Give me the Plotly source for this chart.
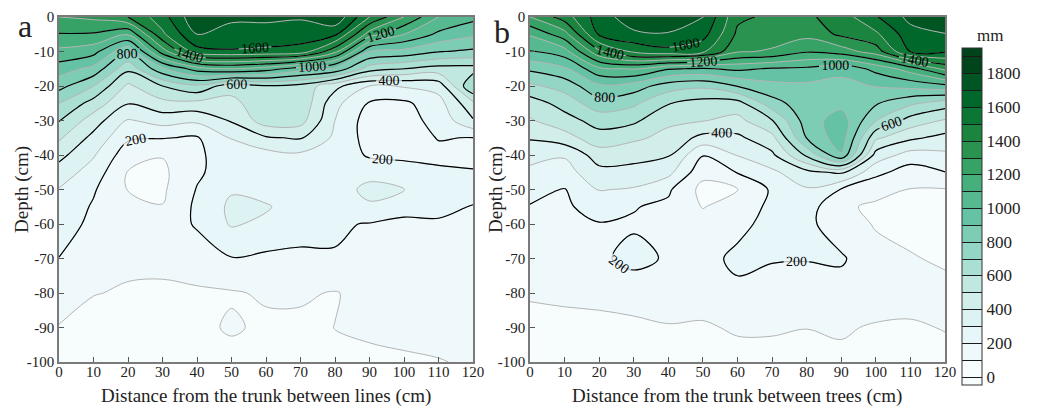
import numpy as np
import plotly.graph_objects as go

# distance from trunk (cm) and depth (cm)
distance = [0, 10, 20, 30, 40, 50, 60, 70, 80, 90, 100, 110, 120]
depth = [0, -5, -10, -15, -20, -25, -30, -35, -40, -45, -50, -55, -60, -70, -80, -90, -100]

# panel a: between lines, one column per distance, values top->bottom (mm)
between_lines = [
    [1300, 1195, 1075, 950, 835, 700, 605, 515, 430, 355, 295, 265, 250, 198, 150, 95, 80],
    [1320, 1190, 1035, 870, 700, 560, 450, 370, 310, 255, 210, 190, 175, 130, 102, 80, 70],
    [1400, 1110, 810, 625, 480, 405, 290, 215, 140, 95, 97, 120, 130, 110, 95, 80, 70],
    [1560, 1480, 1250, 880, 600, 470, 340, 205, 105, 80, 85, 103, 120, 115, 90, 75, 60],
    [1780, 1700, 1560, 1050, 680, 470, 320, 190, 180, 185, 205, 220, 215, 130, 92, 80, 65],
    [1720, 1660, 1590, 1100, 540, 470, 410, 305, 260, 250, 290, 320, 310, 195, 92, 110, 70],
    [1720, 1660, 1580, 1050, 590, 570, 550, 390, 260, 240, 260, 310, 280, 180, 110, 85, 70],
    [1710, 1650, 1560, 950, 565, 580, 540, 410, 280, 240, 240, 250, 230, 185, 110, 85, 75],
    [1780, 1620, 1330, 880, 430, 330, 300, 280, 250, 240, 230, 215, 210, 195, 95, 101, 80],
    [1500, 1250, 900, 650, 300, 190, 150, 160, 190, 250, 340, 280, 195, 160, 130, 108, 90],
    [1300, 1100, 870, 600, 310, 180, 165, 170, 185, 230, 305, 215, 190, 160, 140, 110, 95],
    [1100, 980, 805, 560, 340, 260, 230, 203, 185, 210, 240, 220, 190, 150, 130, 115, 98],
    [1030, 920, 780, 560, 700, 480, 390, 198, 180, 205, 230, 196, 185, 150, 130, 115, 105],
]

# panel b: between trees
between_trees = [
    [1300, 1110, 995, 820, 680, 550, 490, 410, 330, 280, 230, 195, 170, 140, 105, 85, 70],
    [1450, 1260, 1060, 880, 740, 640, 560, 460, 310, 260, 195, 185, 175, 150, 110, 85, 70],
    [1650, 1615, 1380, 1080, 880, 760, 640, 560, 450, 370, 305, 240, 195, 185, 110, 90, 75],
    [1760, 1680, 1520, 1110, 850, 720, 620, 520, 430, 370, 290, 205, 190, 225, 150, 75, 65],
    [1780, 1690, 1570, 1010, 750, 605, 520, 470, 410, 330, 215, 180, 175, 190, 140, 95, 80],
    [1705, 1640, 1520, 990, 720, 560, 505, 370, 205, 130, 70, 95, 140, 170, 120, 95, 80],
    [1420, 1380, 1310, 1020, 805, 560, 470, 380, 305, 205, 95, 150, 175, 220, 180, 105, 85],
    [1380, 1340, 1290, 990, 870, 760, 595, 470, 380, 280, 215, 220, 230, 205, 170, 105, 85],
    [1380, 1330, 1210, 980, 880, 860, 850, 805, 620, 370, 290, 250, 230, 205, 150, 101, 80],
    [1450, 1420, 1250, 930, 870, 870, 950, 960, 890, 420, 195, 110, 130, 215, 150, 108, 85],
    [1590, 1480, 1350, 1030, 905, 810, 705, 520, 360, 230, 120, 90, 95, 120, 140, 93, 80],
    [1730, 1660, 1605, 1150, 930, 720, 560, 420, 260, 150, 97, 80, 80, 105, 125, 92, 80],
    [1790, 1695, 1610, 1330, 970, 650, 490, 370, 280, 198, 95, 80, 80, 90, 120, 103, 80],
]

colorbar_ticks = [0, 200, 400, 600, 800, 1000, 1200, 1400, 1600, 1800]
x_ticks = [0, 10, 20, 30, 40, 50, 60, 70, 80, 90, 100, 110, 120]
y_ticks = [0, -10, -20, -30, -40, -50, -60, -70, -80, -90, -100]
y_ticktext = ["0", "-10", "-20", "-30", "-40", "-50", "-60", "-70", "-80", "-90", "-100"]

SERIF = "Liberation Serif"
W, H = 1037, 408

# BuGn, stretched so the 19 bands (0..1900 by 100) span the full scale
bugn = ["#f7fcfd", "#e5f5f9", "#ccece6", "#99d8c9", "#66c2a4", "#41ae76", "#238b45", "#006d2c", "#00441b"]
colorscale = [[0.0, bugn[0]]]
for i, c in enumerate(bugn):
    colorscale.append([0.05 + 0.9 * i / (len(bugn) - 1), c])
colorscale.append([1.0, bugn[-1]])

za = np.array(between_lines).T
zb = np.array(between_trees).T

fill_contours = dict(start=0, end=1900, size=100, coloring="fill", showlines=True)
label_contours = dict(start=200, end=1800, size=200, coloring="none", showlines=True,
                      showlabels=True, labelfont=dict(family=SERIF, size=14, color="black"))

fig = go.Figure()


def add_panel(z, xa, ya, with_scale):
    if with_scale:
        fig.add_trace(go.Contour(
            x=distance, y=depth, z=z, xaxis=xa, yaxis=ya,
            colorscale=colorscale, contours=fill_contours,
            line=dict(color="#1a1a1a", width=1, smoothing=1), hoverinfo="skip",
            showscale=True,
            colorbar=dict(x=962 / W, xanchor="left", xpad=0, ypad=0,
                          y=1 - 216.5 / H, yanchor="middle", len=337 / H, lenmode="fraction",
                          thickness=20, thicknessmode="pixels", tickvals=colorbar_ticks,
                          tickfont=dict(family=SERIF, size=17, color="#222"),
                          outlinewidth=1, outlinecolor="#333", ticks="")))
    fig.add_trace(go.Contour(
        x=distance, y=depth, z=z, xaxis=xa, yaxis=ya,
        colorscale=colorscale, contours=fill_contours,
        line=dict(color="#b5b5b5", width=1, smoothing=1), hoverinfo="skip",
        showscale=False))
    fig.add_trace(go.Contour(
        x=distance, y=depth, z=z, xaxis=xa, yaxis=ya,
        contours=label_contours, line=dict(color="black", width=1.2, smoothing=1),
        hoverinfo="skip", showscale=False))


add_panel(za, "x", "y", False)
add_panel(zb, "x2", "y2", True)

axis_common = dict(showgrid=False, zeroline=False, showline=True, linecolor="#7a7a7a", linewidth=1.5,
                   mirror=True, ticks="inside", ticklen=5, tickcolor="#555", automargin=False,
                   tickfont=dict(family=SERIF, size=15, color="#222"))
ydom = [1 - 362 / H, 1 - 17 / H]

title_font = dict(family=SERIF, size=19, color="#222")


def ann(text, x, y, size=None, angle=0):
    f = dict(title_font)
    if size:
        f["size"] = size
    return dict(text=text, x=x / W, y=1 - y / H, xref="paper", yref="paper", showarrow=False,
                xanchor="center", yanchor="middle", textangle=angle, font=f)


fig.update_layout(
    width=W, height=H, margin=dict(l=0, r=0, t=0, b=0, autoexpand=False),
    paper_bgcolor="white", plot_bgcolor="white", showlegend=False,
    xaxis=dict(domain=[59 / W, 473 / W], range=[0, 120], tickvals=x_ticks, anchor="y",
               ticklabelstandoff=-5, **axis_common),
    yaxis=dict(domain=ydom, range=[-100, 0], tickvals=y_ticks, ticktext=y_ticktext, anchor="x",
               **axis_common),
    xaxis2=dict(domain=[530 / W, 945 / W], range=[0, 120], tickvals=x_ticks, anchor="y2",
                ticklabelstandoff=-5, **axis_common),
    yaxis2=dict(domain=ydom, range=[-100, 0], tickvals=y_ticks, ticktext=y_ticktext, anchor="x2",
                **axis_common),
    annotations=[
        ann("Distance from the trunk between lines (cm)", 266, 396),
        ann("Distance from the trunk between trees (cm)", 737, 396),
        ann("Depth (cm)", 22, 190, angle=-90),
        ann("Depth (cm)", 496, 190, angle=-90),
        ann("a", 25, 26, size=32),
        ann("b", 502, 32, size=32),
        ann("mm", 990, 35, size=17),
    ],
)

fig.write_html("out.html")
